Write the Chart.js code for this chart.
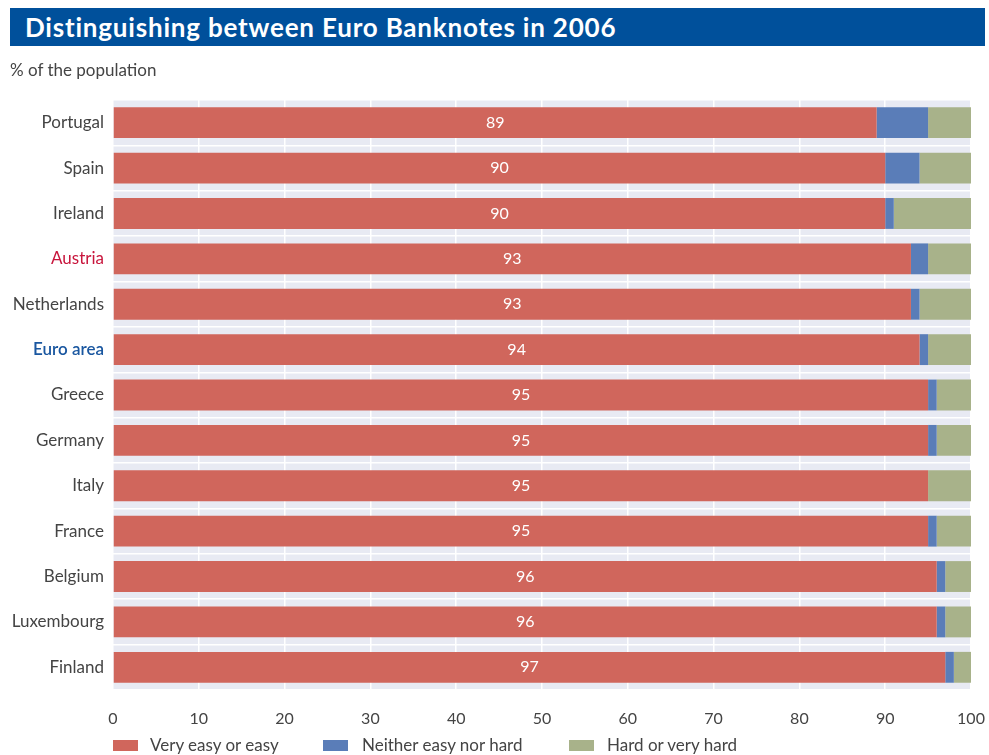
<!DOCTYPE html>
<html>
<head>
<meta charset="utf-8">
<script src="https://cdn.jsdelivr.net/npm/chart.js@4.4.0/dist/chart.umd.min.js"></script>
<style>
  html, body { margin: 0; padding: 0; background: #ffffff; }
  body { width: 989px; height: 755px; position: relative; overflow: hidden; font-family: Lato, "Noto Sans", sans-serif; }
  #titlebar { position: absolute; left: 10px; top: 8px; width: 975px; height: 38px; background: #00509b; }
  #title { position: absolute; left: 25px; top: 8px; height: 38px; line-height: 38px; color: #ffffff; font-weight: bold; font-size: 26px; letter-spacing: 0.8px; font-family: Lato, sans-serif; white-space: nowrap; }
  #subtitle { position: absolute; left: 10px; top: 59px; color: #444; font-size: 17px; white-space: nowrap; }
  #wrap { position: absolute; left: 0; top: 0; width: 989px; height: 755px; }
  .lg { position: absolute; top: 735px; height: 20px; line-height: 20px; font-size: 17px; color: #444; white-space: nowrap; }
  .lgbox { position: absolute; top: 740px; width: 25px; height: 11px; }
</style>
</head>
<body>
<div id="wrap"><canvas id="c" width="989" height="755"></canvas></div>
<div id="titlebar"></div>
<div id="title">Distinguishing between Euro Banknotes in 2006</div>
<div id="subtitle">% of the population</div>
<div class="lgbox" style="left:113px;background:#d0665c"></div>
<div class="lg" style="left:150px">Very easy or easy</div>
<div class="lgbox" style="left:323px;background:#5a7db8"></div>
<div class="lg" style="left:362px">Neither easy nor hard</div>
<div class="lgbox" style="left:569px;background:#a8b28a"></div>
<div class="lg" style="left:607px">Hard or very hard</div>
<script>
const categories = ["Portugal","Spain","Ireland","Austria","Netherlands","Euro area","Greece","Germany","Italy","France","Belgium","Luxembourg","Finland"];
const veryEasyOrEasy = [89,90,90,93,93,94,95,95,95,95,96,96,97];
const neitherEasyNorHard = [6,4,1,2,1,1,1,1,0,1,1,1,1];
const hardOrVeryHard = [5,6,9,5,6,5,4,4,5,4,3,3,2];
const seriesNames = ["Very easy or easy","Neither easy nor hard","Hard or very hard"];
const xTicks = [0,10,20,30,40,50,60,70,80,90,100];

const bgPlugin = {
  id: 'bg',
  beforeDraw(chart) {
    const a = chart.chartArea, ctx = chart.ctx;
    ctx.save();
    ctx.fillStyle = '#e8eaf3';
    ctx.fillRect(a.left, a.top, a.right - a.left, a.bottom - a.top);
    ctx.restore();
  }
};
const labelPlugin = {
  id: 'barlabels',
  afterDatasetsDraw(chart) {
    const meta = chart.getDatasetMeta(0), ctx = chart.ctx;
    ctx.save();
    ctx.fillStyle = '#ffffff';
    ctx.font = '16px Lato, sans-serif';
    ctx.textAlign = 'center';
    ctx.textBaseline = 'middle';
    meta.data.forEach((el, i) => {
      const p = el.getProps(['x','y','base'], true);
      ctx.fillText(String(veryEasyOrEasy[i]), (p.x + p.base) / 2, p.y);
    });
    ctx.restore();
  }
};

new Chart(document.getElementById('c'), {
  type: 'bar',
  data: {
    labels: categories,
    datasets: [
      { label: seriesNames[0], data: veryEasyOrEasy, backgroundColor: '#d0665c' },
      { label: seriesNames[1], data: neitherEasyNorHard, backgroundColor: '#5a7db8' },
      { label: seriesNames[2], data: hardOrVeryHard, backgroundColor: '#a8b28a' }
    ]
  },
  options: {
    indexAxis: 'y',
    responsive: false,
    animation: false,
    devicePixelRatio: 1,
    layout: { padding: { top: 100, right: 18, bottom: 25, left: 0 } },
    datasets: { bar: { barPercentage: 0.68, categoryPercentage: 1.0, borderWidth: 0 } },
    plugins: { legend: { display: false }, tooltip: { enabled: false } },
    scales: {
      x: {
        stacked: true, min: 0, max: 100,
        afterBuildTicks(axis) { axis.ticks = xTicks.map(v => ({ value: v })); },
        afterFit(axis) { axis.height = 40; axis.paddingLeft = 0; axis.paddingRight = 0; },
        grid: { color: '#ffffff', lineWidth: 1.5, drawTicks: false },
        border: { display: false },
        ticks: { padding: 19, color: '#444', font: { size: 16, family: 'Lato, sans-serif' } }
      },
      y: {
        stacked: true,
        afterFit(axis) { axis.width = 113; axis.paddingTop = 0; axis.paddingBottom = 0; },
        grid: { color: '#ffffff', lineWidth: 1.5, drawTicks: false, offset: true },
        border: { display: false },
        ticks: {
          padding: 9,
          color: ctx => ctx.index === 3 ? '#c8153c' : (ctx.index === 5 ? '#1a57a0' : '#444'),
          font: ctx => ({ size: 17, family: 'Lato, sans-serif', weight: ctx.index === 5 ? '600' : 'normal' })
        }
      }
    }
  },
  plugins: [bgPlugin, labelPlugin]
});
</script>
</body>
</html>
